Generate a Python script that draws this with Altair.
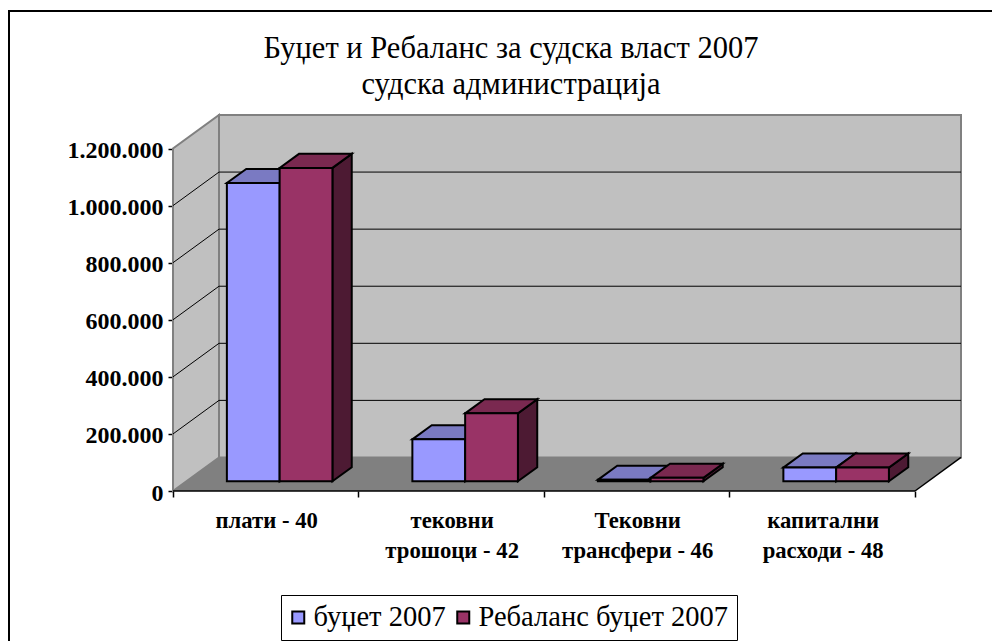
import altair as alt
import pandas as pd

TITLE_LINES = "Буџет и Ребаланс за судска власт 2007\nсудска администрација"
CATEGORIES = ["плати - 40", "тековни\nтрошоци - 42", "Тековни\nтрансфери - 46", "капитални\nрасходи - 48"]
SERIES = ["буџет 2007", "Ребаланс буџет 2007"]
BUDGET = [1045000, 147000, 5000, 48000]
REBALANCE = [1098000, 238000, 12000, 48000]
TICKS = [0, 200000, 400000, 600000, 800000, 1000000, 1200000]
FRONT = ["#9999ff", "#993366"]
TOP = ["#7a7ac2", "#7a2950"]
SIDE = ["#52527f", "#4d1a33"]
FONT = "Liberation Serif"

# oblique projection: how far the depth axis shifts along x (categories) and y (value)
DX = 0.248
DY = 117544
Z0, Z1 = 0.29, 0.71
GAP = 0.2185
BAR = 0.2845

xs = alt.Scale(domain=[0, 4 + DX], nice=False, zero=False)
ys = alt.Scale(domain=[0, TICKS[-1] + DY], nice=False, zero=False)
xaxis = alt.Axis(values=[0, 1, 2, 3, 4], labels=False, title=None, grid=False, domain=False,
                 tickColor="black", tickSize=6, tickWidth=1.5)
yaxis = alt.Axis(values=TICKS, title=None, grid=False, domain=False, tickColor="black", tickSize=5, tickWidth=1.5,
                 labelExpr="replace(format(datum.value, ','), /,/g, '.')",
                 labelFont=FONT, labelFontSize=24, labelFontWeight="bold", labelColor="black", labelPadding=5,
                 labelOffset=2)

fronts, tops, sides = [], [], []
for s, vals in enumerate([BUDGET, REBALANCE]):
    for c, v in enumerate(vals):
        a = c + GAP + s * BAR
        b = a + BAR
        base = Z0 * DY
        sx0, sx1 = Z0 * DX, Z1 * DX
        top = base + v
        k = f"{s}-{c}"
        fronts.append(dict(series=SERIES[s], x=a + sx0, x2=b + sx0, y=base, y2=top))
        tops += [dict(k=k, fill=TOP[s], y=top, x=a + sx0, x2=b + sx0),
                 dict(k=k, fill=TOP[s], y=top + (Z1 - Z0) * DY, x=a + sx1, x2=b + sx1)]
        sides += [dict(k=k, fill=SIDE[s], x=b + sx0, y=base, y2=top),
                  dict(k=k, fill=SIDE[s], x=b + sx1, y=base + (Z1 - Z0) * DY, y2=top + (Z1 - Z0) * DY)]

X = lambda f="x": alt.X(f"{f}:Q", scale=xs, axis=xaxis)
Y = lambda f="y": alt.Y(f"{f}:Q", scale=ys, axis=yaxis)

border = alt.Chart(pd.DataFrame({"a": [0]})).mark_rect(fill="transparent", stroke="black", strokeWidth=2).encode(
    x=alt.value(-164), x2=alt.value(900), y=alt.value(-104), y2=alt.value(600))

title = alt.Chart(pd.DataFrame({"t": [TITLE_LINES]})).mark_text(
    font=FONT, fontSize=30.5, color="black", baseline="top", align="center", lineBreak="\n", lineHeight=36).encode(
    x=alt.value(338), y=alt.value(-81), text="t:N")

back = alt.Chart(pd.DataFrame([dict(x=DX, x2=4 + DX, y=DY, y2=TICKS[-1] + DY)])).mark_rect(
    fill="#c0c0c0", stroke="#808080", strokeWidth=2).encode(x=X(), x2="x2:Q", y=Y(), y2="y2:Q")
left = alt.Chart(pd.DataFrame([dict(x=0, y=0, y2=TICKS[-1]), dict(x=DX, y=DY, y2=TICKS[-1] + DY)])).mark_area(
    fill="#c0c0c0", stroke="#808080", strokeWidth=2, orient="vertical").encode(x=X(), y=Y(), y2="y2:Q")
floor = alt.Chart(pd.DataFrame([dict(y=0, x=0, x2=4), dict(y=DY, x=DX, x2=4 + DX)])).mark_area(
    fill="#808080", orient="horizontal").encode(y=Y(), x=X(), x2="x2:Q")

grid_rows = []
for v in TICKS[1:-1]:
    grid_rows.append(dict(x=0, x2=DX, y=v, y2=v + DY))
    grid_rows.append(dict(x=DX, x2=4 + DX, y=v + DY, y2=v + DY))
grid = alt.Chart(pd.DataFrame(grid_rows)).mark_rule(color="black", strokeWidth=1).encode(
    x=X(), x2="x2:Q", y=Y(), y2="y2:Q")
edges = alt.Chart(pd.DataFrame([dict(x=0, x2=4, y=0, y2=0), dict(x=4, x2=4 + DX, y=0, y2=DY)])).mark_rule(
    color="black", strokeWidth=1.5).encode(x=X(), x2="x2:Q", y=Y(), y2="y2:Q")

side_l = alt.Chart(pd.DataFrame(sides)).mark_area(stroke="black", strokeWidth=2, orient="vertical").encode(
    x=X(), y=Y(), y2="y2:Q", detail="k:N", fill=alt.Fill("fill:N", scale=None))
top_l = alt.Chart(pd.DataFrame(tops)).mark_area(stroke="black", strokeWidth=2, orient="horizontal").encode(
    y=Y(), x=X(), x2="x2:Q", detail="k:N", fill=alt.Fill("fill:N", scale=None))
front_l = alt.Chart(pd.DataFrame(fronts)).mark_rect(stroke="black", strokeWidth=2).encode(
    x=X(), x2="x2:Q", y=Y(), y2="y2:Q",
    fill=alt.Fill("series:N", scale=alt.Scale(domain=SERIES, range=FRONT),
                  legend=alt.Legend(title=None, orient="none", legendX=108, legendY=480, direction="horizontal",
                                    columns=2, labelFont=FONT, labelFontSize=28.5, labelColor="black",
                                    symbolType="square", symbolSize=144, symbolStrokeColor="black",
                                    symbolStrokeWidth=2, strokeColor="black", fillColor="white", padding=8,
                                    columnPadding=7, labelLimit=400, labelOffset=1, symbolOffset=-5)))

labels = alt.Chart(pd.DataFrame({"x": [i + 0.505 for i in range(4)], "t": CATEGORIES, "y": [0] * 4})).mark_text(
    font=FONT, fontSize=22.7, fontWeight="bold", color="black", baseline="top", align="center", lineBreak="\n",
    lineHeight=30, dy=19).encode(x=X(), y=Y(), text="t:N")

chart = alt.layer(border, title, back, left, floor, grid, edges, side_l, top_l, front_l, labels).properties(
    width=788, height=376,
    padding={"left": 165, "top": 107, "right": 31, "bottom": 150},
    autosize=alt.AutoSizeParams(type="none"),
).configure_view(stroke=None)

chart.save("out.html", embed_options={"renderer": "svg", "actions": False})
